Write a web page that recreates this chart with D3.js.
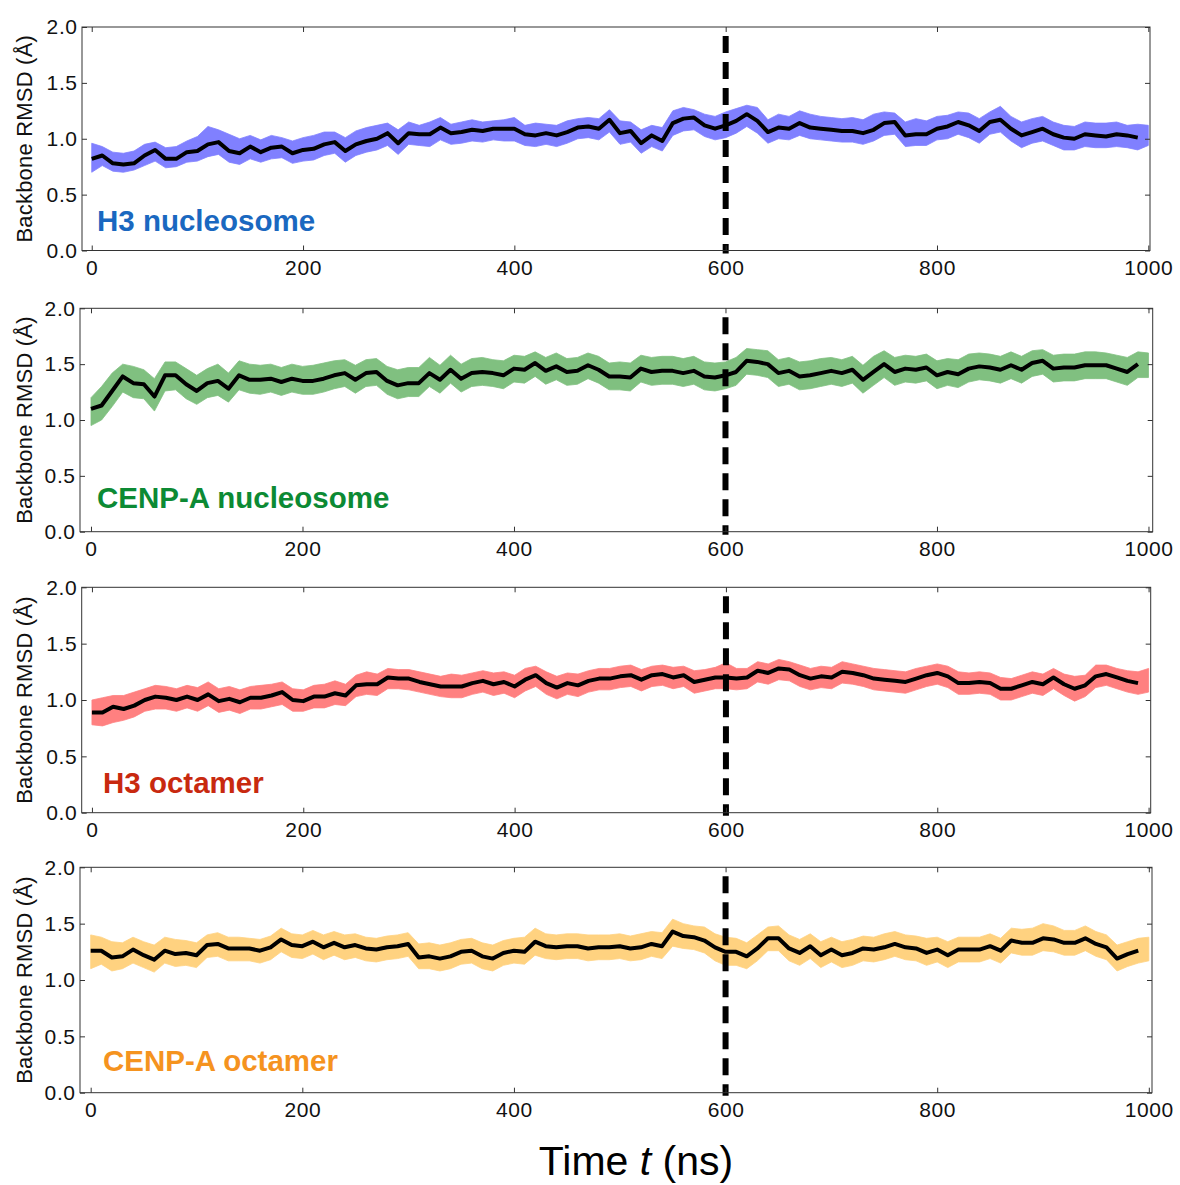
<!DOCTYPE html>
<html>
<head>
<meta charset="utf-8">
<title>Backbone RMSD</title>
<script src="https://d3js.org/d3.v7.min.js"></script>
<style>
  body { margin: 0; background: #fff; }
  svg text { font-family: "Liberation Sans", Arial, Helvetica, sans-serif; }
  .axis text { font-size: 21px; letter-spacing: 0.6px; fill: #111; }
  .axis line { stroke: #333; stroke-width: 1px; }
  .axis path { display: none; }
  .frame { fill: none; stroke: #333; stroke-width: 1px; }
  .ylab { font-size: 22px; letter-spacing: 0.2px; fill: #111; }
  .plabel { font-weight: bold; }
  .mean { fill: none; stroke: #000; stroke-width: 4px; stroke-linejoin: round; }
  .cut { stroke: #000; stroke-width: 6px; stroke-dasharray: 17 9; stroke-dashoffset: 17; }
</style>
</head>
<body>
<div id="chart"></div>
<script>
// sampling grids (ns)
var bandTimes = d3.range(0, 1001, 10);
var meanTimes = d3.range(0, 991, 10);
var xTicks = [0, 200, 400, 600, 800, 1000];
var yTicks = [0, 0.5, 1.0, 1.5, 2.0];
var switchTime = 600;

// H3 nucleosome
var h3NucMean = [0.82,0.85,0.78,0.77,0.78,0.85,0.90,0.82,0.82,0.88,
  0.89,0.95,0.97,0.89,0.87,0.93,0.88,0.92,0.93,0.87,
  0.90,0.91,0.95,0.97,0.89,0.95,0.98,1.00,1.05,0.96,
  1.05,1.04,1.04,1.10,1.05,1.06,1.08,1.07,1.09,1.09,
  1.09,1.04,1.03,1.05,1.03,1.06,1.10,1.11,1.09,1.17,
  1.05,1.07,0.96,1.03,0.98,1.14,1.18,1.19,1.12,1.09,
  1.12,1.16,1.22,1.16,1.06,1.10,1.09,1.14,1.10,1.09,
  1.08,1.07,1.07,1.05,1.08,1.14,1.15,1.03,1.04,1.04,
  1.09,1.11,1.15,1.12,1.07,1.15,1.17,1.09,1.03,1.06,
  1.09,1.04,1.01,1.00,1.04,1.03,1.02,1.04,1.03,1.01];
var h3NucHi = [0.96,0.93,0.88,0.87,0.89,0.95,0.97,0.92,0.93,0.98,
  1.02,1.11,1.08,1.04,1.00,1.03,0.99,1.03,1.01,0.98,
  1.01,1.03,1.06,1.06,1.01,1.07,1.10,1.12,1.14,1.08,
  1.15,1.12,1.15,1.19,1.13,1.15,1.17,1.15,1.16,1.17,
  1.19,1.12,1.14,1.13,1.12,1.16,1.18,1.19,1.18,1.26,
  1.16,1.15,1.08,1.12,1.10,1.25,1.28,1.26,1.22,1.20,
  1.24,1.27,1.30,1.28,1.17,1.22,1.20,1.25,1.22,1.20,
  1.19,1.18,1.19,1.17,1.22,1.24,1.23,1.15,1.18,1.16,
  1.20,1.21,1.24,1.23,1.18,1.24,1.29,1.20,1.15,1.18,
  1.20,1.15,1.12,1.11,1.15,1.14,1.14,1.15,1.12,1.13,1.12];
var h3NucLo = [0.70,0.76,0.71,0.70,0.72,0.76,0.80,0.74,0.75,0.79,
  0.80,0.84,0.86,0.79,0.77,0.82,0.79,0.82,0.83,0.78,
  0.80,0.81,0.85,0.87,0.79,0.85,0.88,0.90,0.94,0.86,
  0.95,0.94,0.93,0.99,0.95,0.96,0.98,0.97,0.99,0.98,
  0.98,0.94,0.93,0.95,0.93,0.96,1.00,1.01,0.99,1.06,
  0.95,0.97,0.87,0.93,0.89,1.03,1.07,1.08,1.02,0.99,
  1.01,1.05,1.11,1.05,0.96,1.00,0.99,1.03,1.00,0.99,
  0.98,0.97,0.97,0.95,0.98,1.03,1.04,0.93,0.94,0.94,
  0.99,1.00,1.04,1.01,0.96,1.04,1.06,0.98,0.92,0.96,
  0.98,0.94,0.90,0.90,0.93,0.92,0.92,0.93,0.92,0.90,0.94];

// CENP-A nucleosome
var cenpNucMean = [1.10,1.13,1.26,1.39,1.33,1.32,1.21,1.40,1.40,1.32,
  1.26,1.33,1.35,1.28,1.40,1.36,1.36,1.37,1.34,1.37,
  1.35,1.35,1.37,1.40,1.42,1.36,1.42,1.43,1.35,1.31,
  1.33,1.33,1.42,1.36,1.45,1.37,1.42,1.43,1.42,1.40,
  1.46,1.45,1.51,1.44,1.48,1.43,1.44,1.49,1.45,1.39,
  1.39,1.38,1.46,1.43,1.44,1.44,1.42,1.44,1.39,1.38,
  1.40,1.43,1.53,1.52,1.50,1.42,1.44,1.39,1.40,1.42,
  1.44,1.42,1.45,1.36,1.43,1.50,1.43,1.46,1.45,1.47,
  1.40,1.43,1.41,1.46,1.48,1.47,1.45,1.49,1.45,1.51,
  1.53,1.46,1.47,1.47,1.49,1.49,1.49,1.46,1.43,1.50];
var cenpNucHi = [1.20,1.30,1.42,1.50,1.48,1.45,1.37,1.52,1.52,1.46,
  1.40,1.46,1.50,1.42,1.53,1.50,1.49,1.50,1.47,1.50,
  1.48,1.49,1.51,1.53,1.54,1.49,1.54,1.55,1.48,1.45,
  1.47,1.47,1.56,1.49,1.58,1.50,1.55,1.56,1.54,1.53,
  1.58,1.57,1.61,1.56,1.60,1.55,1.56,1.60,1.57,1.51,
  1.52,1.51,1.58,1.56,1.57,1.57,1.55,1.57,1.52,1.51,
  1.52,1.56,1.64,1.63,1.62,1.54,1.56,1.52,1.53,1.55,
  1.56,1.54,1.57,1.49,1.57,1.62,1.56,1.58,1.57,1.59,
  1.53,1.55,1.54,1.59,1.60,1.59,1.57,1.61,1.57,1.62,
  1.63,1.58,1.59,1.59,1.61,1.61,1.60,1.58,1.56,1.61,1.60];
var cenpNucLo = [0.95,1.00,1.12,1.25,1.20,1.19,1.08,1.26,1.27,1.19,
  1.14,1.20,1.22,1.16,1.27,1.24,1.23,1.25,1.22,1.25,
  1.23,1.23,1.25,1.28,1.30,1.24,1.30,1.31,1.23,1.19,
  1.21,1.21,1.30,1.24,1.33,1.25,1.30,1.31,1.30,1.28,
  1.34,1.33,1.39,1.32,1.36,1.31,1.32,1.37,1.33,1.27,
  1.27,1.26,1.34,1.31,1.32,1.32,1.30,1.32,1.27,1.26,
  1.28,1.31,1.41,1.40,1.38,1.30,1.32,1.27,1.28,1.30,
  1.32,1.30,1.33,1.24,1.31,1.38,1.31,1.34,1.33,1.35,
  1.28,1.31,1.29,1.34,1.36,1.35,1.33,1.37,1.33,1.39,
  1.41,1.34,1.35,1.35,1.37,1.37,1.37,1.34,1.31,1.38,1.38];

// H3 octamer
var h3OctMean = [0.89,0.89,0.94,0.92,0.95,1.00,1.03,1.02,1.00,1.03,
  1.00,1.05,0.99,1.01,0.98,1.02,1.02,1.04,1.07,1.00,
  0.99,1.03,1.03,1.06,1.04,1.13,1.14,1.14,1.20,1.19,
  1.19,1.16,1.14,1.12,1.12,1.12,1.15,1.17,1.14,1.16,
  1.12,1.18,1.22,1.15,1.11,1.15,1.13,1.17,1.19,1.19,
  1.21,1.22,1.18,1.22,1.23,1.20,1.22,1.16,1.18,1.20,
  1.20,1.19,1.20,1.26,1.24,1.28,1.27,1.22,1.19,1.21,
  1.20,1.25,1.24,1.22,1.19,1.18,1.17,1.16,1.19,1.22,
  1.24,1.21,1.15,1.15,1.16,1.15,1.10,1.10,1.13,1.16,
  1.14,1.20,1.14,1.10,1.13,1.21,1.23,1.20,1.17,1.15];
var h3OctHi = [1.00,1.02,1.04,1.04,1.07,1.10,1.13,1.12,1.10,1.13,
  1.11,1.16,1.10,1.12,1.09,1.12,1.13,1.14,1.16,1.10,
  1.09,1.13,1.14,1.17,1.14,1.22,1.25,1.23,1.28,1.27,
  1.27,1.25,1.23,1.21,1.23,1.22,1.24,1.26,1.24,1.25,
  1.22,1.28,1.30,1.25,1.21,1.24,1.23,1.26,1.28,1.28,
  1.30,1.31,1.27,1.30,1.31,1.29,1.30,1.26,1.27,1.29,
  1.33,1.28,1.28,1.34,1.32,1.36,1.34,1.31,1.28,1.30,
  1.29,1.34,1.32,1.30,1.28,1.27,1.26,1.25,1.28,1.30,
  1.32,1.30,1.25,1.24,1.25,1.24,1.20,1.19,1.22,1.25,
  1.23,1.28,1.23,1.21,1.22,1.31,1.31,1.28,1.26,1.25,1.28];
var h3OctLo = [0.78,0.77,0.80,0.82,0.85,0.90,0.92,0.92,0.90,0.93,
  0.90,0.95,0.89,0.91,0.88,0.92,0.92,0.94,0.96,0.90,
  0.90,0.93,0.93,0.96,0.95,1.03,1.05,1.04,1.10,1.10,
  1.09,1.07,1.05,1.03,1.02,1.02,1.05,1.07,1.04,1.06,
  1.02,1.08,1.12,1.05,1.01,1.05,1.03,1.07,1.09,1.09,
  1.11,1.12,1.08,1.12,1.13,1.10,1.12,1.06,1.08,1.10,
  1.10,1.09,1.10,1.16,1.14,1.18,1.17,1.12,1.09,1.11,
  1.10,1.15,1.14,1.12,1.09,1.08,1.07,1.06,1.09,1.12,
  1.14,1.11,1.05,1.05,1.06,1.05,1.00,1.00,1.03,1.06,
  1.04,1.10,1.04,0.99,1.03,1.11,1.13,1.10,1.07,1.05,1.07];

// CENP-A octamer
var cenpOctMean = [1.26,1.26,1.20,1.21,1.27,1.22,1.18,1.26,1.23,1.24,
  1.22,1.31,1.32,1.28,1.28,1.28,1.26,1.29,1.36,1.31,
  1.30,1.34,1.29,1.33,1.29,1.31,1.28,1.27,1.29,1.30,
  1.32,1.20,1.21,1.19,1.21,1.25,1.26,1.21,1.19,1.24,
  1.26,1.25,1.34,1.30,1.29,1.30,1.30,1.28,1.29,1.29,
  1.30,1.28,1.29,1.32,1.30,1.43,1.39,1.38,1.35,1.29,
  1.25,1.25,1.21,1.28,1.37,1.37,1.28,1.24,1.30,1.22,
  1.27,1.22,1.24,1.28,1.27,1.29,1.32,1.29,1.28,1.24,
  1.27,1.22,1.27,1.27,1.27,1.30,1.26,1.35,1.33,1.33,
  1.37,1.36,1.33,1.33,1.37,1.32,1.29,1.19,1.23,1.26];
var cenpOctHi = [1.40,1.38,1.34,1.33,1.38,1.34,1.31,1.38,1.36,1.35,
  1.33,1.40,1.42,1.38,1.38,1.37,1.36,1.39,1.46,1.41,
  1.40,1.44,1.40,1.43,1.40,1.41,1.38,1.37,1.39,1.40,
  1.42,1.32,1.33,1.31,1.33,1.36,1.37,1.33,1.31,1.35,
  1.37,1.38,1.46,1.41,1.40,1.41,1.41,1.40,1.40,1.40,
  1.41,1.39,1.41,1.43,1.42,1.54,1.50,1.48,1.47,1.41,
  1.38,1.37,1.33,1.40,1.47,1.48,1.40,1.36,1.41,1.34,
  1.38,1.34,1.36,1.39,1.38,1.41,1.43,1.40,1.39,1.37,
  1.38,1.34,1.38,1.38,1.38,1.41,1.37,1.46,1.45,1.46,
  1.50,1.48,1.44,1.44,1.48,1.43,1.40,1.31,1.34,1.37,1.38];
var cenpOctLo = [1.10,1.14,1.08,1.10,1.15,1.11,1.07,1.15,1.12,1.13,
  1.11,1.20,1.21,1.17,1.17,1.17,1.15,1.18,1.25,1.20,
  1.19,1.23,1.18,1.22,1.18,1.20,1.17,1.16,1.18,1.19,
  1.21,1.10,1.10,1.08,1.10,1.14,1.15,1.10,1.08,1.13,
  1.15,1.14,1.22,1.19,1.18,1.19,1.19,1.17,1.18,1.18,
  1.19,1.17,1.18,1.21,1.19,1.30,1.28,1.27,1.24,1.17,
  1.13,1.13,1.10,1.17,1.26,1.26,1.17,1.13,1.19,1.11,
  1.16,1.11,1.13,1.17,1.16,1.18,1.21,1.18,1.17,1.13,
  1.16,1.11,1.16,1.16,1.16,1.19,1.15,1.24,1.22,1.22,
  1.26,1.25,1.22,1.22,1.26,1.21,1.18,1.08,1.12,1.15,1.17];

var panels = [
  { name: "H3 nucleosome", textColor: "#1a68c0", bandColor: "#8080ff",
    mean: h3NucMean, hi: h3NucHi, lo: h3NucLo,
    box: { left: 82, top: 27, right: 1150, bottom: 250.5 }, xDom: [-9.2, 1001.6],
    lab: { x: 97, y: 231 } },
  { name: "CENP-A nucleosome", textColor: "#0c8a34", bandColor: "#80c080",
    mean: cenpNucMean, hi: cenpNucHi, lo: cenpNucLo,
    box: { left: 80, top: 308.3, right: 1152.7, bottom: 531.7 }, xDom: [-10.4, 1004],
    lab: { x: 97, y: 508 } },
  { name: "H3 octamer", textColor: "#c8290f", bandColor: "#ff8080",
    mean: h3OctMean, hi: h3OctHi, lo: h3OctLo,
    box: { left: 81.7, top: 587.3, right: 1150.7, bottom: 812.7 }, xDom: [-9.7, 1002],
    lab: { x: 103, y: 793 } },
  { name: "CENP-A octamer", textColor: "#f5931f", bandColor: "#ffd280",
    mean: cenpOctMean, hi: cenpOctHi, lo: cenpOctLo,
    box: { left: 80, top: 867.3, right: 1152, bottom: 1092.7 }, xDom: [-10.1, 1003],
    lab: { x: 103, y: 1071 } }
];

var width = 1180, height = 1185;

var svg = d3.select("#chart").append("svg")
  .attr("width", width)
  .attr("height", height);

panels.forEach(function(p) {
  var b = p.box;
  var x = d3.scaleLinear().domain(p.xDom).range([b.left, b.right]);
  var y = d3.scaleLinear().domain([0, 2]).range([b.bottom, b.top]);
  var g = svg.append("g");

  // noisy raw trace, drawn as its envelope
  var band = d3.area()
    .x(function(d, i) { return x(bandTimes[i]); })
    .y0(function(d, i) { return y(p.lo[i]); })
    .y1(function(d) { return y(d); });
  g.append("path")
    .datum(p.hi)
    .attr("d", band)
    .attr("fill", p.bandColor)
    .attr("stroke", p.bandColor)
    .attr("stroke-width", 0.8);

  // running average
  var line = d3.line()
    .x(function(d, i) { return x(meanTimes[i]); })
    .y(function(d) { return y(d); });
  g.append("path")
    .datum(p.mean)
    .attr("class", "mean")
    .attr("d", line);

  // dashed marker
  g.append("line")
    .attr("class", "cut")
    .attr("x1", x(switchTime)).attr("x2", x(switchTime))
    .attr("y1", b.top).attr("y2", b.bottom + 3);

  // axes, ticks pointing inward
  g.append("g").attr("class", "axis")
    .attr("transform", "translate(0," + b.bottom + ")")
    .call(d3.axisBottom(x).tickValues(xTicks).tickSizeInner(-5).tickSizeOuter(0).tickPadding(9.5).tickFormat(d3.format("d")));
  g.append("g").attr("class", "axis")
    .attr("transform", "translate(0," + b.top + ")")
    .call(d3.axisTop(x).tickValues(xTicks).tickSizeInner(-5).tickSizeOuter(0).tickFormat(""));
  g.append("g").attr("class", "axis")
    .attr("transform", "translate(" + b.left + ",0)")
    .call(d3.axisLeft(y).tickValues(yTicks).tickSizeInner(-5).tickSizeOuter(0).tickPadding(4.4).tickFormat(d3.format(".1f")));
  g.append("g").attr("class", "axis")
    .attr("transform", "translate(" + b.right + ",0)")
    .call(d3.axisRight(y).tickValues(yTicks).tickSizeInner(-5).tickSizeOuter(0).tickFormat(""));

  g.append("rect")
    .attr("class", "frame")
    .attr("x", b.left).attr("y", b.top)
    .attr("width", b.right - b.left).attr("height", b.bottom - b.top);

  g.append("text")
    .attr("class", "ylab")
    .attr("transform", "translate(32," + ((b.top + b.bottom) / 2) + ") rotate(-90)")
    .attr("text-anchor", "middle")
    .text("Backbone RMSD (Å)");

  g.append("text")
    .attr("class", "plabel")
    .attr("x", p.lab.x).attr("y", p.lab.y)
    .attr("fill", p.textColor)
    .style("font-size", "29.5px")
    .text(p.name);
});

var title = svg.append("text")
  .attr("x", 636).attr("y", 1175)
  .attr("text-anchor", "middle")
  .style("font-size", "41px")
  .attr("fill", "#000");
title.append("tspan").text("Time ");
title.append("tspan").style("font-style", "italic").text("t");
title.append("tspan").text(" (ns)");
</script>
</body>
</html>
